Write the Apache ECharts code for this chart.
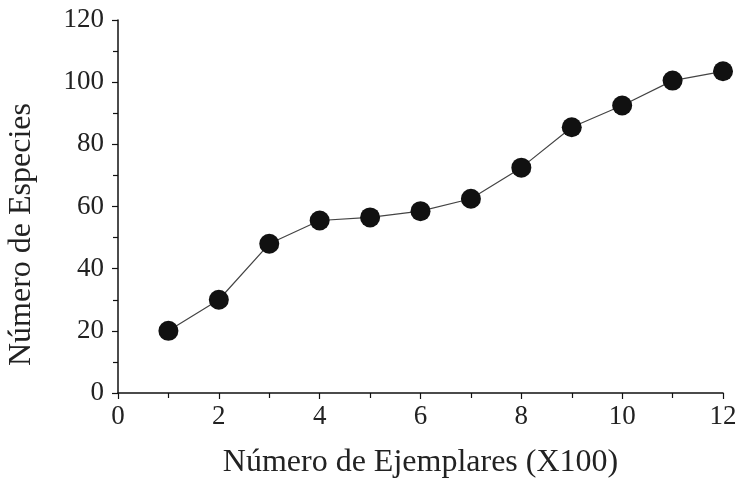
<!DOCTYPE html>
<html>
<head>
<meta charset="utf-8">
<script src="https://cdn.jsdelivr.net/npm/echarts@6/dist/echarts.min.js"></script>
<style>html,body{margin:0;padding:0;background:#fff}#c{width:740px;height:481px}</style>
</head>
<body>
<div id="c"></div>
<script>
var ejemplares = [1, 2, 3, 4, 5, 6, 7, 8, 9, 10, 11, 12];
var especies = [20, 30, 48, 55.5, 56.5, 58.5, 62.5, 72.5, 85.5, 92.5, 100.5, 103.5];
var xTitle = 'Número de Ejemplares (X100)';
var yTitle = 'Número de Especies';

var chart = echarts.init(document.getElementById('c'));
var font = "'Liberation Serif', serif";
chart.setOption({
  animation: false,
  textStyle: {fontFamily: font},
  grid: {left: 118, right: 17, top: 20, bottom: 88, containLabel: false, outerBoundsMode: 'none'},
  xAxis: {
    type: 'value', min: 0, max: 12, interval: 2,
    name: xTitle, nameLocation: 'middle', nameGap: 54,
    nameTextStyle: {fontFamily: font, fontSize: 32, color: '#222'},
    axisLine: {show: true, lineStyle: {color: '#111', width: 1.5}},
    axisTick: {show: true, inside: false, length: 6, lineStyle: {color: '#111', width: 1.2}},
    minorTick: {show: true, splitNumber: 2, length: 5, lineStyle: {color: '#111', width: 1.2}},
    splitLine: {show: false},
    axisLabel: {fontFamily: font, fontSize: 27, color: '#222', margin: 10}
  },
  yAxis: {
    type: 'value', min: 0, max: 120, interval: 20,
    name: yTitle, nameLocation: 'middle', nameGap: 80, nameRotate: 90,
    nameTextStyle: {fontFamily: font, fontSize: 32, color: '#222', padding: [0, 56, 0, 0]},
    axisLine: {show: true, lineStyle: {color: '#111', width: 1.5}},
    axisTick: {show: true, inside: false, length: 6, lineStyle: {color: '#111', width: 1.2}},
    minorTick: {show: true, splitNumber: 2, length: 5, lineStyle: {color: '#111', width: 1.2}},
    splitLine: {show: false},
    axisLabel: {fontFamily: font, fontSize: 27, color: '#222', margin: 14}
  },
  series: [{
    type: 'line',
    data: ejemplares.map(function (x, i) { return [x, especies[i]]; }),
    symbol: 'circle', symbolSize: 20,
    lineStyle: {color: '#444', width: 1.2},
    itemStyle: {color: '#111'}
  }]
});
</script>
</body>
</html>
